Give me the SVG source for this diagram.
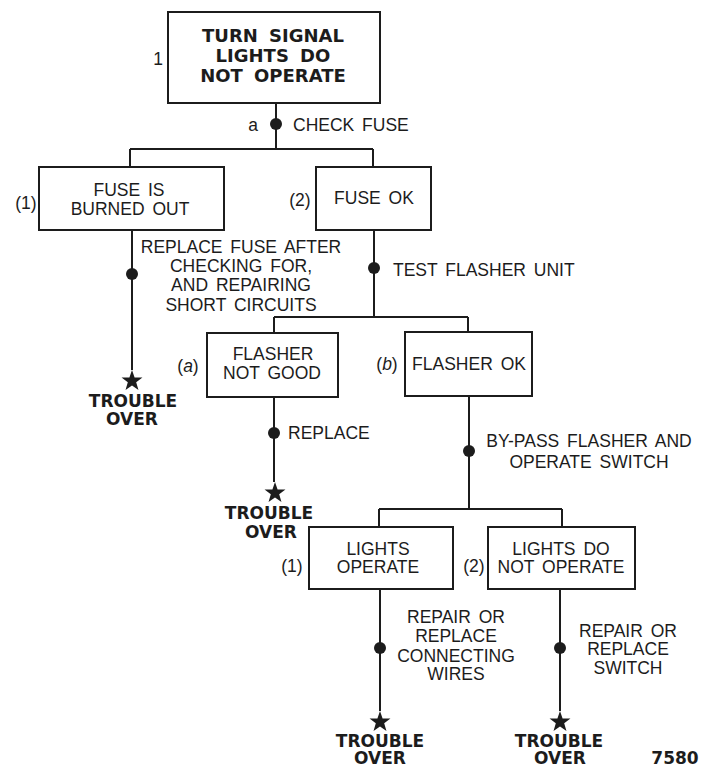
<svg xmlns="http://www.w3.org/2000/svg" width="709" height="769" viewBox="0 0 709 769">
<style>
.box{fill:#fff;stroke:#1c1c1c;stroke-width:2}
.ln{fill:none;stroke:#1c1c1c;stroke-width:2}
.dot{fill:#1c1c1c}
.t{font-family:"Liberation Sans",Arial,sans-serif;font-size:17.5px;fill:#1c1c1c;word-spacing:3px}
.c{text-anchor:middle}
.b{font-family:"DejaVu Sans","Liberation Sans",sans-serif;font-weight:bold;font-size:17px;fill:#1c1c1c;text-anchor:middle}
.ti{font-size:18px;word-spacing:5px}
.star{fill:#1c1c1c}
</style>
<defs>
<polygon id="star" class="star" points="0,-11 2.59,-3.56 10.46,-3.4 4.18,1.36 6.47,8.9 0,4.4 -6.47,8.9 -4.18,1.36 -10.46,-3.4 -2.59,-3.56"/>
</defs>
<rect width="709" height="769" fill="#fff"/>

<g id="connectors">
<path class="ln" d="M276,103V149M130,149H373M130,149V167M373,149V167"/>
<circle class="dot" cx="276" cy="124" r="6"/>
<text class="t" x="258" y="131" text-anchor="end">a</text>
<text class="t" x="293" y="131">CHECK FUSE</text>

<path class="ln" d="M132,230V370"/>
<circle class="dot" cx="132" cy="274" r="6"/>
<text class="t c" x="241" y="253">REPLACE FUSE AFTER</text>
<text class="t c" x="241" y="272">CHECKING FOR,</text>
<text class="t c" x="241" y="291">AND REPAIRING</text>
<text class="t c" x="241" y="311">SHORT CIRCUITS</text>

<path class="ln" d="M374,230V317M274,317H468M274,317V333M468,317V332"/>
<circle class="dot" cx="374" cy="268" r="6"/>
<text class="t" x="393" y="276">TEST FLASHER UNIT</text>

<path class="ln" d="M274,397V482"/>
<circle class="dot" cx="274" cy="433" r="6"/>
<text class="t" x="288" y="439">REPLACE</text>

<path class="ln" d="M469,396V509M379,509H562M379,509V527M562,509V527"/>
<circle class="dot" cx="469" cy="451" r="6"/>
<text class="t c" x="589" y="447">BY-PASS FLASHER AND</text>
<text class="t c" x="589" y="468">OPERATE SWITCH</text>

<path class="ln" d="M380,589V711"/>
<circle class="dot" cx="380" cy="648" r="6"/>
<text class="t c" x="456" y="623">REPAIR OR</text>
<text class="t c" x="456" y="642">REPLACE</text>
<text class="t c" x="456" y="662">CONNECTING</text>
<text class="t c" x="456" y="680">WIRES</text>

<path class="ln" d="M560,589V711"/>
<circle class="dot" cx="560" cy="648" r="6"/>
<text class="t c" x="628" y="637">REPAIR OR</text>
<text class="t c" x="628" y="655">REPLACE</text>
<text class="t c" x="628" y="674">SWITCH</text>
</g>

<g id="node-start">
<rect class="box" x="168" y="12" width="212" height="91"/>
<text class="b ti" x="273" y="42">TURN SIGNAL</text>
<text class="b ti" x="273" y="62">LIGHTS DO</text>
<text class="b ti" x="273" y="82">NOT OPERATE</text>
<text class="t c" x="158" y="65">1</text>
</g>

<g id="node-fuse-burned">
<rect class="box" x="39" y="167" width="185" height="63"/>
<text class="t c" x="129" y="196">FUSE IS</text>
<text class="t c" x="130" y="215">BURNED OUT</text>
<text class="t c" x="26" y="209">(1)</text>
</g>

<g id="node-fuse-ok">
<rect class="box" x="316" y="167" width="115" height="63"/>
<text class="t c" x="374" y="204">FUSE OK</text>
<text class="t c" x="300" y="206">(2)</text>
</g>

<g id="end-1">
<use href="#star" x="132" y="381"/>
<text class="b" x="133" y="407">TROUBLE</text>
<text class="b" x="132" y="425">OVER</text>
</g>

<g id="node-flasher-bad">
<rect class="box" x="207" y="333" width="131" height="64"/>
<text class="t c" x="273" y="360">FLASHER</text>
<text class="t c" x="272" y="379">NOT GOOD</text>
<text class="t c" x="188" y="372">(<tspan font-style="italic">a</tspan>)</text>
</g>

<g id="node-flasher-ok">
<rect class="box" x="405" y="332" width="127" height="64"/>
<text class="t c" x="469" y="370">FLASHER OK</text>
<text class="t c" x="387" y="370">(<tspan font-style="italic">b</tspan>)</text>
</g>

<g id="end-2">
<use href="#star" x="275" y="493"/>
<text class="b" x="269" y="519">TROUBLE</text>
<text class="b" x="271" y="538">OVER</text>
</g>

<g id="node-lights-operate">
<rect class="box" x="309" y="527" width="144" height="62"/>
<text class="t c" x="378" y="555">LIGHTS</text>
<text class="t c" x="378" y="573">OPERATE</text>
<text class="t c" x="292" y="572">(1)</text>
</g>

<g id="node-lights-not">
<rect class="box" x="488" y="527" width="147" height="62"/>
<text class="t c" x="561" y="555">LIGHTS DO</text>
<text class="t c" x="561" y="573">NOT OPERATE</text>
<text class="t c" x="474" y="572">(2)</text>
</g>

<g id="end-3">
<use href="#star" x="380" y="722"/>
<text class="b" x="380" y="747">TROUBLE</text>
<text class="b" x="380" y="764">OVER</text>
</g>

<g id="end-4">
<use href="#star" x="560" y="722"/>
<text class="b" x="559" y="747">TROUBLE</text>
<text class="b" x="560" y="764">OVER</text>
</g>

<text class="b" x="675" y="764" font-size="18">7580</text>
</svg>
